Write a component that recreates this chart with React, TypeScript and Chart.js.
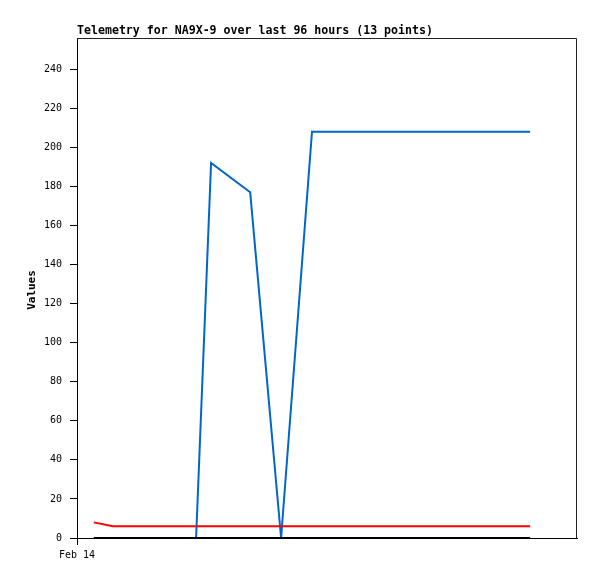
import React, { useEffect, useRef } from "react";
import { Chart, registerables } from "chart.js";
Chart.register(...registerables);

const TITLE = "Telemetry for NA9X-9 over last 96 hours (13 points)";
const Y_LABEL = "Values";
const X_TICK_LABEL = "Feb 14";
// hours since axis start
const hours = [3.7, 7.9, 15, 22, 26.2, 29.5, 38.1, 44.9, 51.7, 62, 74, 86, 99.7];
const blueSeries = [0, 0, 0, 0, 0, 192, 177, 0, 208, 208, 208, 208, 208];
const redSeries = [8, 6, 6, 6, 6, 6, 6, 6, 6, 6, 6, 6, 6];
const blackSeries = [0, 0, 0, 0, 0, 0, 0, 0, 0, 0, 0, 0, 0];
const X_MIN = 0;
const X_MAX = 110;
const Y_MIN = 0;
const Y_MAX = 256;
const Y_STEP = 20;

const FONT = "'DejaVu Sans Mono', monospace";

export default function App() {
  const ref = useRef<HTMLCanvasElement>(null);
  useEffect(() => {
    const toPts = (ys: number[]) => hours.map((h, i) => ({ x: h, y: ys[i] }));
    const overlay = {
      id: "overlay",
      afterDraw(chart: any) {
        const { ctx, chartArea: a } = chart;
        ctx.save();
        ctx.strokeStyle = "#222";
        ctx.lineWidth = 1;
        ctx.beginPath();
        ctx.moveTo(a.left, a.top + 0.5);
        ctx.lineTo(a.right - 0.5, a.top + 0.5);
        ctx.lineTo(a.right - 0.5, a.bottom);
        ctx.stroke();
        ctx.fillStyle = "#000";
        ctx.font = `bold 11.6px ${FONT}`;
        ctx.textAlign = "left";
        ctx.textBaseline = "middle";
        ctx.fillText(TITLE, a.left, 31);
        ctx.translate(32, 290);
        ctx.rotate(-Math.PI / 2);
        ctx.font = `bold 11px ${FONT}`;
        ctx.textAlign = "center";
        ctx.fillText(Y_LABEL, 0, 0);
        ctx.restore();
      },
    };
    const chart = new Chart(ref.current!, {
      type: "line",
      data: {
        datasets: [
          { data: toPts(blackSeries), borderColor: "#000000", borderWidth: 2, pointRadius: 0, clip: false as any },
          { data: toPts(redSeries), borderColor: "#ff0000", borderWidth: 2, pointRadius: 0, clip: false as any },
          { data: toPts(blueSeries), borderColor: "#0066cc", borderWidth: 2, pointRadius: 0, clip: false as any },
        ],
      },
      options: {
        animation: false,
        responsive: false,
        maintainAspectRatio: false,
        layout: { padding: { top: 38, right: 20, left: 0, bottom: 0 } },
        plugins: { legend: { display: false }, tooltip: { enabled: false }, title: { display: false } },
        scales: {
          x: {
            type: "linear",
            min: X_MIN,
            max: X_MAX,
            afterBuildTicks: (s: any) => { s.ticks = [{ value: X_MIN }]; },
            afterFit: (s: any) => { s.height = 41; },
            grid: {
              drawOnChartArea: false,
              tickLength: 7,
              color: (c: any) => (c.tick && c.tick.value === X_MIN ? "#000" : "rgba(0,0,0,0)"),
              tickColor: (c: any) => (c.tick && c.tick.value === X_MIN ? "#000" : "rgba(0,0,0,0)"),
            },
            border: { color: "#000", width: 1 },
            ticks: {
              callback: (v: any) => (v === X_MIN ? X_TICK_LABEL : ""),
              maxRotation: 0,
              padding: 4,
              color: "#000",
              font: { family: FONT, size: 10 },
            },
          },
          y: {
            min: Y_MIN,
            max: Y_MAX,
            afterBuildTicks: (s: any) => { s.ticks = s.ticks.filter((t: any) => t.value % Y_STEP === 0); },
            afterFit: (s: any) => { s.width = 77; },
            grid: { drawOnChartArea: false, tickLength: 7, color: "#000", tickColor: "#000" },
            border: { color: "#000", width: 1 },
            ticks: { stepSize: Y_STEP, padding: 8, color: "#000", font: { family: FONT, size: 10 } },
          },
        },
      },
      plugins: [overlay],
    });
    return () => chart.destroy();
  }, []);
  return (
    <div style={{ position: "fixed", left: 0, top: 0, width: 597, height: 579, background: "#fff" }}>
      <canvas ref={ref} width={597} height={579} style={{ width: 597, height: 579 }} />
    </div>
  );
}
